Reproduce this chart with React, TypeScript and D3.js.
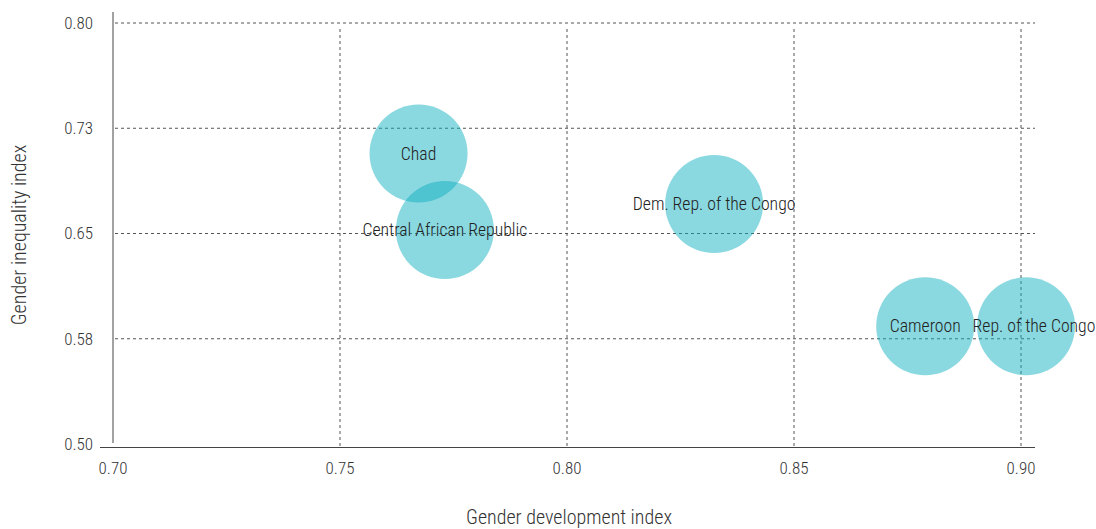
import React from "react";
import * as d3 from "d3";

const countries = ["Chad", "Central African Republic", "Dem. Rep. of the Congo", "Cameroon", "Rep. of the Congo"];
const gdi = [0.7673, 0.7731, 0.8324, 0.8789, 0.9011];
const gii = [0.707, 0.6525, 0.671, 0.5839, 0.5839];
const labelShift = [0, 0, 0, 0, 8];
const xTicks = [0.7, 0.75, 0.8, 0.85, 0.9];
const xTickLabels = ["0.70", "0.75", "0.80", "0.85", "0.90"];
const yTicks = [0.5, 0.575, 0.65, 0.725, 0.8];
const yTickLabels = ["0.50", "0.58", "0.65", "0.73", "0.80"];

const W = 1096, H = 529;
const FONT = "'Roboto Condensed', 'Liberation Sans Narrow', 'Arial Narrow', Roboto, sans-serif";

export default function App() {
  const x = d3.scaleLinear().domain([0.7, 0.9]).range([113, 1021]);
  const y = d3.scaleLinear().domain([0.5, 0.8]).range([444, 23]);
  const r = 49;
  const fill = "rgb(11,174,190)";
  return (
    <svg width={W} height={H} style={{ position: "absolute", left: 0, top: 0, fontFamily: FONT, fontWeight: 300 }}>
      {yTicks.map((t, i) => (
        <g key={"y" + t}>
          {t > 0.5 && (
            <line x1={115} x2={1035} y1={y(t)} y2={y(t)} stroke="#555" strokeWidth={1} strokeDasharray="3,3" />
          )}
          <text x={93} y={y(t)} dy="0.35em" textAnchor="end" fontSize={17} fill="#333">
            {yTickLabels[i]}
          </text>
        </g>
      ))}
      {xTicks.map((t, i) => (
        <g key={"x" + t}>
          {t > 0.7 && (
            <line x1={x(t)} x2={x(t)} y1={29} y2={446} stroke="#555" strokeWidth={1} strokeDasharray="3,3" />
          )}
          <text x={x(t)} y={474} textAnchor="middle" fontSize={17} fill="#333">
            {xTickLabels[i]}
          </text>
        </g>
      ))}
      <line x1={113} x2={113} y1={12} y2={443} stroke="#444" strokeWidth={1} />
      <line x1={100} x2={1035} y1={447.5} y2={447.5} stroke="#444" strokeWidth={1} />
      {countries.map((c, i) => (
        <circle key={c} cx={x(gdi[i])} cy={y(gii[i])} r={r} fill={fill} fillOpacity={0.48} />
      ))}
      {countries.map((c, i) => (
        <text key={"t" + c} x={x(gdi[i]) + labelShift[i]} y={y(gii[i])} dy="0.35em" textAnchor="middle" fontSize={17.7} fill="#222">
          {c}
        </text>
      ))}
      <text x={569} y={524} textAnchor="middle" fontSize={20} fill="#333">Gender development index</text>
      <text transform={`translate(26,235) rotate(-90)`} textAnchor="middle" fontSize={20} fill="#333">
        Gender inequality index
      </text>
    </svg>
  );
}
